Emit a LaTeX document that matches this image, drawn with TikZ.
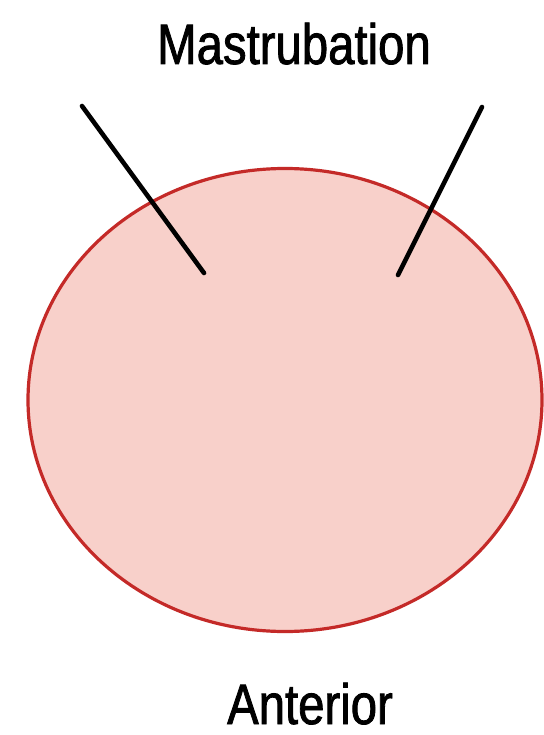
\documentclass[tikz,border=0pt]{standalone}
\usepackage{fontspec}
\setmainfont{Liberation Sans}
\newfontfamily\labelfont[FakeStretch=0.83,FakeBold=1.4]{Liberation Sans}
\usepackage{xcolor}
\usetikzlibrary{shapes.geometric,positioning}

\definecolor{glandfill}{RGB}{248,208,202}
\definecolor{glandline}{RGB}{196,42,40}

\begin{document}
\begin{tikzpicture}[
			x=1pt,
			y=-1pt,
			gland/.style={
				draw=glandline,
				fill=glandfill,
				ellipse,
				line width=3.2pt,
				minimum width=514pt,
				minimum height=463pt,
				inner sep=0pt
			},
			needle/.style={
				draw=black,
				line width=4.6pt,
				line cap=round
			},
			caption/.style={
				anchor=base,
				inner sep=0pt,
				font=\labelfont\fontsize{57}{57}\selectfont
			}
			]
			
			\useasboundingbox (0,0) rectangle (543,735);
			
			%=====================================================================
			% Gland outline
			%=====================================================================
			
			\node[gland] (gland) at (285,400) {};
			
			%=====================================================================
			% Needle strokes
			%=====================================================================
			
			\coordinate (left-top) at (82,106);
			\coordinate (left-tip) at (204,273);
			\coordinate (right-top) at (482,107);
			\coordinate (right-tip) at (398,275);
			
			\draw[needle] (left-top) -- (left-tip);
			\draw[needle] (right-top) -- (right-tip);
			
			%=====================================================================
			% Labels
			%=====================================================================
			
			\node[caption] (top-label) at (294,64) {Mastrubation};
			\node[caption] (bottom-label) at (310,724) {Anterior};
			
		\end{tikzpicture}
\end{document}
